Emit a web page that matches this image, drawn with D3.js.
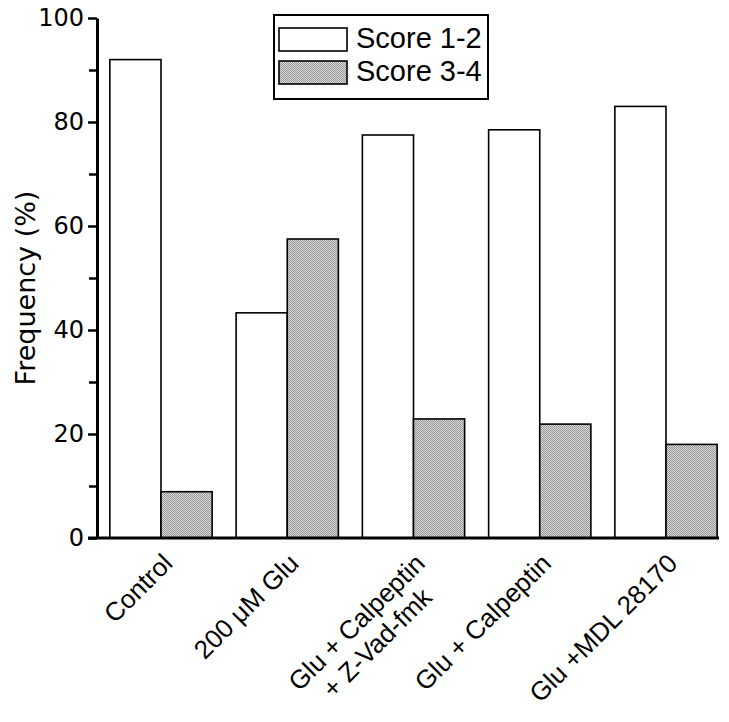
<!DOCTYPE html>
<html><head><meta charset="utf-8">
<script src="https://cdn.jsdelivr.net/npm/d3@7"></script>
<style>body{margin:0;background:#fff}</style>
</head><body>
<svg id="c" width="729" height="722"></svg>
<script>
const categories = ["Control", "200 \u03bcM Glu", "Glu + Calpeptin\n+ Z-Vad-fmk", "Glu + Calpeptin", "Glu +MDL 28170"];
const score12 = [92, 43.3, 77.5, 78.5, 83];
const score34 = [8.9, 57.5, 22.9, 21.9, 18];
const seriesNames = ["Score 1-2", "Score 3-4"];
const majorTicks = [0, 20, 40, 60, 80, 100];
const minorTicks = [10, 30, 50, 70, 90];

const svg = d3.select("#c");
svg.append("rect").attr("width",729).attr("height",722).attr("fill","#fff");
const defs = svg.append("defs");
const pat = defs.append("pattern").attr("id","dots").attr("width",2).attr("height",2).attr("patternUnits","userSpaceOnUse");
pat.append("rect").attr("width",2).attr("height",2).attr("fill","#dadada");
pat.append("rect").attr("width",1).attr("height",1).attr("fill","#969696");
pat.append("rect").attr("x",1).attr("y",1).attr("width",1).attr("height",1).attr("fill","#969696");

const y = d3.scaleLinear().domain([0,100]).range([538,18]);
const x = d3.scalePoint().domain(categories).range([161,666]);
const bw = x.step()*0.405;
const axisX = 97;

// bars
const g = svg.append("g");
g.selectAll("rect.s12").data(categories).join("rect")
  .attr("x", d => x(d)-bw).attr("y", (d,i)=>y(score12[i]))
  .attr("width", bw).attr("height", (d,i)=>y(0)-y(score12[i]))
  .attr("fill","#fff").attr("stroke","#000").attr("stroke-width",1.6);
g.selectAll("rect.s34").data(categories).join("rect")
  .attr("x", d => x(d)).attr("y", (d,i)=>y(score34[i]))
  .attr("width", bw).attr("height", (d,i)=>y(0)-y(score34[i]))
  .attr("fill","url(#dots)").attr("stroke","#000").attr("stroke-width",1.6);

// y axis
const ya = svg.append("g").attr("transform",`translate(${axisX},0)`)
  .call(d3.axisLeft(y).tickValues(majorTicks).tickSize(9).tickSizeOuter(0).tickPadding(4));
ya.select(".domain").attr("stroke-width",3);
ya.selectAll(".tick line").attr("stroke-width",2.5);
ya.selectAll(".tick text").attr("font-family","DejaVu Sans").attr("font-size",24).attr("fill","#000");
const ym = svg.append("g").attr("transform",`translate(${axisX},0)`)
  .call(d3.axisLeft(y).tickValues(minorTicks).tickSize(8).tickFormat(""));
ym.select(".domain").remove();
ym.selectAll(".tick line").attr("stroke-width",2.5);

// x axis baseline
svg.append("line").attr("x1",88).attr("x2",719).attr("y1",y(0)).attr("y2",y(0))
  .attr("stroke","#000").attr("stroke-width",3);

// y title
svg.append("text").attr("transform",`translate(35,${(y(0)+y(100))/2+10}) rotate(-90)`)
  .attr("text-anchor","middle").attr("font-family","DejaVu Sans").attr("font-size",27)
  .text("Frequency (%)");

// x labels
categories.forEach(c => {
  const lines = c.split("\n");
  const t = svg.append("text")
    .attr("transform",`translate(${x(c)+13},565) rotate(-45)`)
    .attr("font-family","Liberation Sans, Arial, sans-serif").attr("font-size",26).attr("fill","#000");
  if (lines.length === 1) {
    t.attr("text-anchor","end").text(c);
  } else {
    const t1 = t.append("tspan").attr("x",0).attr("y",0).attr("text-anchor","end").text(lines[0]);
    const L1 = t1.node().getComputedTextLength();
    t1.attr("text-anchor","middle").attr("x",-L1/2);
    lines.slice(1).forEach((ln,k)=>{
      t.append("tspan").attr("x",-L1/2).attr("y",(k+1)*29).attr("text-anchor","middle").text(ln);
    });
  }
});

// legend
const lg = svg.append("g");
lg.append("rect").attr("x",274).attr("y",15).attr("width",214).attr("height",84)
  .attr("fill","#fff").attr("stroke","#000").attr("stroke-width",2);
const fills = ["#fff","url(#dots)"];
seriesNames.forEach((s,i)=>{
  lg.append("rect").attr("x",279).attr("y",28+i*33).attr("width",68).attr("height",23)
    .attr("fill",fills[i]).attr("stroke","#000").attr("stroke-width",1.6);
  lg.append("text").attr("x",356).attr("y",48+i*33).attr("font-family","Liberation Sans, Arial, sans-serif")
    .attr("font-size",29).text(s);
});
</script>
</body></html>
